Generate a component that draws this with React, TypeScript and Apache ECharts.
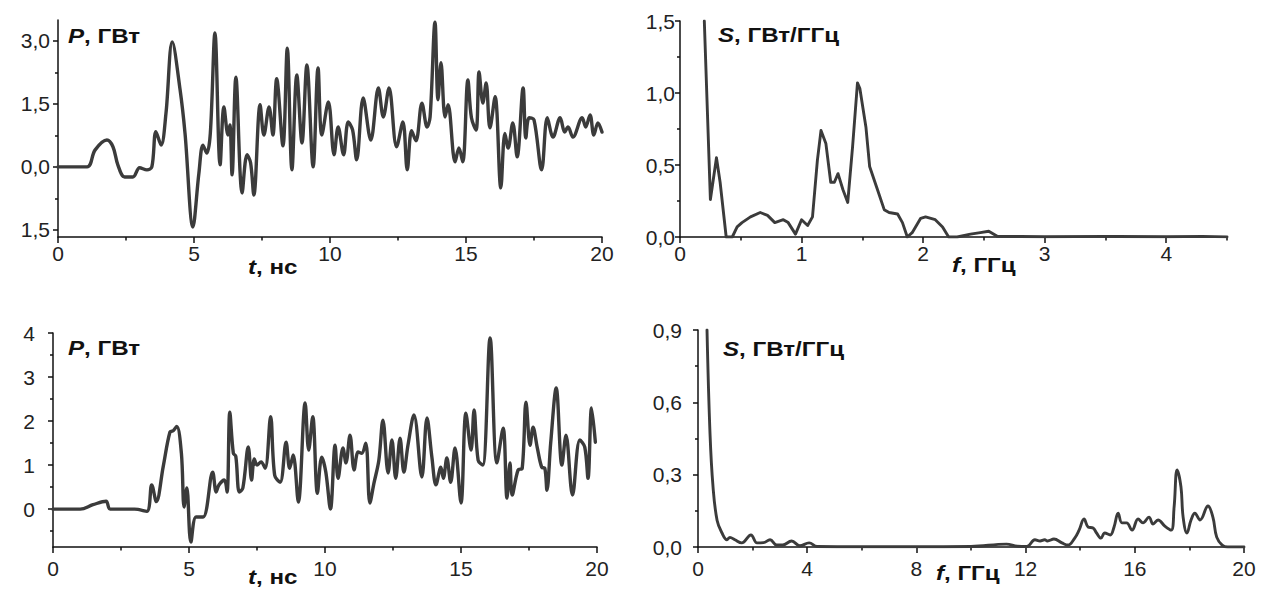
import React, { useEffect, useRef } from "react";
import * as echarts from "echarts";

// ---- Data ----
// Top-left: P(t), GW
const p1T = [0, 1.07, 1.36, 1.8, 2.02, 2.2, 2.45, 2.75, 3.0, 3.27, 3.45, 3.6, 3.79, 3.97, 4.2, 4.49, 4.67, 4.96, 5.18, 5.33, 5.47, 5.6, 5.77, 5.96, 6.1, 6.25, 6.32, 6.4, 6.54, 6.77, 6.95, 7.08, 7.2, 7.43, 7.57, 7.76, 7.9, 8.04, 8.27, 8.43, 8.6, 8.78, 8.97, 9.15, 9.38, 9.56, 9.7, 9.94, 10.15, 10.3, 10.5, 10.67, 10.83, 10.98, 11.22, 11.5, 11.78, 11.96, 12.17, 12.45, 12.68, 12.84, 13.0, 13.16, 13.38, 13.57, 13.68, 13.86, 13.97, 14.08, 14.23, 14.34, 14.6, 14.74, 14.88, 15.07, 15.2, 15.37, 15.48, 15.62, 15.74, 15.88, 16.07, 16.28, 16.43, 16.55, 16.72, 16.88, 17.1, 17.2, 17.32, 17.5, 17.78, 17.99, 18.2, 18.46, 18.63, 18.75, 18.93, 19.27, 19.4, 19.56, 19.7, 19.85, 20];
const p1P = [0, 0, 0.4, 0.64, 0.48, 0.05, -0.24, -0.24, -0.02, -0.07, 0, 0.84, 0.52, 1.28, 2.98, 1.83, 0.8, -1.43, -0.15, 0.52, 0.33, 0.8, 3.19, 0.05, 1.43, 0.76, 1.0, -0.19, 2.14, -0.62, 0.29, 0.1, -0.67, 1.48, 0.76, 1.43, 0.76, 2.1, 0.5, 2.83, -0.07, 2.19, 0.57, 2.43, 0, 2.36, 0.76, 1.55, 0.29, 0.95, 0.29, 1.07, 0.88, 0.17, 1.64, 0.64, 1.88, 1.19, 1.88, 0.48, 1.07, -0.07, 0.86, 0.62, 1.52, 0.95, 1.19, 3.45, 1.6, 2.48, 1.19, 1.48, 0.12, 0.45, 0.12, 2.07, 1.17, 0.88, 2.26, 1.52, 2.0, 0.93, 1.67, -0.5, 0.8, 0.45, 1.05, 0.24, 1.88, 0.69, 1.17, 1.12, -0.07, 1.17, 0.71, 1.17, 0.83, 0.95, 0.71, 1.17, 0.95, 1.24, 0.76, 1.05, 0.83];

// Top-right: S(f), GW/GHz
const s1F = [0.2, 0.25, 0.3, 0.33, 0.38, 0.43, 0.47, 0.51, 0.58, 0.66, 0.72, 0.78, 0.85, 0.89, 0.95, 1.0, 1.05, 1.09, 1.13, 1.16, 1.2, 1.24, 1.27, 1.3, 1.34, 1.38, 1.42, 1.46, 1.48, 1.53, 1.56, 1.62, 1.68, 1.72, 1.79, 1.83, 1.87, 1.91, 1.98, 2.02, 2.1, 2.16, 2.21, 2.28, 2.39, 2.47, 2.54, 2.61, 2.8, 3.0, 3.5, 3.6, 4.0, 4.3, 4.5];
const s1S = [1.5, 0.26, 0.55, 0.38, 0, 0, 0.07, 0.1, 0.14, 0.17, 0.15, 0.1, 0.12, 0.1, 0.02, 0.12, 0.08, 0.14, 0.53, 0.74, 0.65, 0.38, 0.38, 0.44, 0.33, 0.24, 0.63, 1.07, 1.03, 0.76, 0.49, 0.34, 0.19, 0.17, 0.16, 0.1, 0, 0.03, 0.13, 0.14, 0.12, 0.07, 0, 0, 0.02, 0.03, 0.04, 0.005, 0.003, 0.002, 0.004, 0.003, 0.002, 0.004, 0.001];

// Bottom-left: P(t), GW
const p2T = [0, 1.0, 1.47, 1.95, 2.1, 3.0, 3.45, 3.63, 3.8, 4.05, 4.3, 4.42, 4.55, 4.72, 4.82, 4.92, 5.07, 5.26, 5.52, 5.87, 6.0, 6.1, 6.3, 6.4, 6.5, 6.63, 6.72, 6.85, 6.98, 7.18, 7.3, 7.4, 7.5, 7.65, 7.8, 8.0, 8.15, 8.35, 8.57, 8.7, 8.83, 9.02, 9.27, 9.4, 9.55, 9.72, 9.88, 10.03, 10.2, 10.37, 10.48, 10.66, 10.77, 10.92, 11.07, 11.22, 11.35, 11.5, 11.65, 11.8, 11.98, 12.13, 12.32, 12.46, 12.6, 12.76, 12.9, 13.05, 13.27, 13.56, 13.75, 13.93, 14.08, 14.26, 14.35, 14.48, 14.62, 14.78, 15.0, 15.18, 15.37, 15.48, 15.63, 15.8, 16.07, 16.32, 16.55, 16.69, 16.8, 16.88, 17.1, 17.25, 17.39, 17.54, 17.65, 17.8, 17.97, 18.08, 18.16, 18.3, 18.5, 18.71, 18.86, 19.1, 19.37, 19.55, 19.67, 19.8, 19.94];
const p2P = [0, 0, 0.1, 0.18, 0, 0, -0.05, 0.55, 0.17, 0.96, 1.75, 1.78, 1.88, 1.27, 0.05, 0.48, -0.75, -0.18, -0.18, 0.84, 0.39, 0.55, 0.66, 0.39, 2.2, 1.27, 1.2, 0.39, 0.48, 1.41, 0.66, 1.14, 1.0, 1.07, 0.93, 2.1, 0.77, 0.61, 1.52, 0.93, 1.23, 0.16, 2.41, 1.34, 2.1, 0.36, 1.18, 0.84, 0, 1.45, 0.7, 1.39, 1.05, 1.68, 0.89, 1.3, 1.27, 1.5, 0.14, 0.59, 1.11, 2.02, 0.82, 1.57, 0.7, 1.61, 0.84, 1.45, 2.14, 0.73, 2.07, 1.18, 0.55, 0.95, 0.7, 1.16, 0.61, 1.39, 0.14, 2.18, 1.34, 2.25, 1.11, 1.0, 3.89, 1.05, 1.84, 0.25, 1.05, 0.32, 0.89, 0.93, 2.43, 1.45, 1.86, 1.41, 0.95, 0.93, 0.43, 1.52, 2.75, 1.0, 1.68, 0.32, 1.57, 1.41, 0.7, 2.3, 1.52];

// Bottom-right: S(f), GW/GHz
const s2F = [0.33, 0.44, 0.55, 0.7, 0.88, 1.06, 1.17, 1.35, 1.6, 1.94, 2.16, 2.4, 2.64, 2.88, 3.1, 3.43, 3.73, 4.07, 4.36, 6, 8, 10, 11.3, 11.7, 12.05, 12.34, 12.53, 12.7, 12.8, 13.04, 13.33, 13.55, 13.8, 13.96, 14.14, 14.29, 14.47, 14.6, 14.76, 14.9, 15.1, 15.24, 15.39, 15.53, 15.7, 15.9, 16.12, 16.3, 16.52, 16.67, 16.85, 17.1, 17.33, 17.44, 17.55, 17.69, 17.77, 17.91, 18.06, 18.2, 18.39, 18.68, 18.86, 19.0, 19.2, 19.4, 20];
const s2S = [0.9, 0.47, 0.25, 0.11, 0.058, 0.03, 0.04, 0.03, 0.017, 0.05, 0.017, 0.018, 0.03, 0.008, 0.008, 0.025, 0.005, 0.017, 0.002, 0.001, 0.001, 0.002, 0.012, 0.003, 0.002, 0.03, 0.025, 0.03, 0.025, 0.033, 0.017, 0.008, 0.037, 0.07, 0.116, 0.083, 0.079, 0.058, 0.037, 0.058, 0.05, 0.083, 0.14, 0.1, 0.1, 0.07, 0.116, 0.1, 0.124, 0.095, 0.112, 0.087, 0.07, 0.166, 0.32, 0.25, 0.124, 0.058, 0.112, 0.14, 0.112, 0.17, 0.124, 0.041, 0.008, 0, 0];

// Tick values
const p1XMajor = [0, 5, 10, 15, 20];
const p1XMinor = [2.5, 7.5, 12.5, 17.5];
const p1YMajor = [-1.5, 0, 1.5, 3];
const p1YMinor = [-0.75, 0.75, 2.25];
const s1XMajor = [0, 1, 2, 3, 4];
const s1XMinor = [0.5, 1.5, 2.5, 3.5, 4.5];
const s1YMajor = [0, 0.5, 1, 1.5];
const s1YMinor = [0.25, 0.75, 1.25];
const p2XMajor = [0, 5, 10, 15, 20];
const p2XMinor = [2.5, 7.5, 12.5, 17.5];
const p2YMajor = [0, 1, 2, 3, 4];
const p2YMinor = [-0.5, 0.5, 1.5, 2.5, 3.5];
const s2XMajor = [0, 4, 8, 12, 16, 20];
const s2XMinor = [2, 6, 10, 14, 18];
const s2YMajor = [0, 0.3, 0.6, 0.9];
const s2YMinor = [0.15, 0.45, 0.75];

const FONT = '"Liberation Sans", Arial, sans-serif';
const AXIS_COLOR = "#111";
const LINE_COLOR = "#3b3b3b";
const TICK_FONT = 21;

const comma1 = (v: number) => Math.abs(v).toFixed(1).replace(".", ",");
const intFmt = (v: number) => String(Math.round(v));

function zip(a: number[], b: number[]) {
  return a.map((x, i) => [x, b[i]]);
}

function axesFor(
  gi: number,
  xr: [number, number],
  xMaj: number[],
  xMin: number[],
  yr: [number, number],
  yMaj: number[],
  yMin: number[],
  xFmt: (v: number) => string,
  yFmt: (v: number) => string,
  xMargin: number,
  yMargin: number
) {
  const ls = { color: AXIS_COLOR, width: 1.5 };
  const xs = [
    {
      gridIndex: gi, type: "value", min: xr[0], max: xr[1], position: "bottom",
      axisLine: { show: true, onZero: false, lineStyle: ls },
      axisTick: { show: true, customValues: xMaj, length: 6, lineStyle: ls },
      axisLabel: { show: true, customValues: xMaj, formatter: xFmt, fontSize: TICK_FONT, color: "#222", fontFamily: FONT, margin: xMargin },
      splitLine: { show: false },
    },
    {
      gridIndex: gi, type: "value", min: xr[0], max: xr[1], position: "bottom",
      axisLine: { show: false, onZero: false },
      axisTick: { show: true, customValues: xMin, length: 3.5, lineStyle: ls },
      axisLabel: { show: false },
      splitLine: { show: false },
    },
  ];
  const ys = [
    {
      gridIndex: gi, type: "value", min: yr[0], max: yr[1], position: "left",
      axisLine: { show: true, onZero: false, lineStyle: ls },
      axisTick: { show: true, customValues: yMaj, length: 5, lineStyle: ls },
      axisLabel: { show: true, customValues: yMaj, formatter: yFmt, fontSize: TICK_FONT, color: "#222", fontFamily: FONT, margin: yMargin },
      splitLine: { show: false },
    },
    {
      gridIndex: gi, type: "value", min: yr[0], max: yr[1], position: "left",
      axisLine: { show: false, onZero: false },
      axisTick: { show: true, customValues: yMin, length: 3, lineStyle: ls },
      axisLabel: { show: false },
      splitLine: { show: false },
    },
  ];
  return { xs, ys };
}

function label(x: number, y: number, ital: string, rest: string) {
  return {
    type: "text",
    x,
    y,
    scaleX: 1.15,
    style: {
      text: `{i|${ital}}{r|${rest}}`,
      rich: {
        i: { fontStyle: "italic", fontWeight: "bold", fontSize: 21, lineHeight: 19, fontFamily: FONT, fill: "#111" },
        r: { fontWeight: "bold", fontSize: 21, lineHeight: 19, fontFamily: FONT, fill: "#111" },
      },
      fontWeight: "bold",
      fontSize: 21,
      lineHeight: 19,
      fontFamily: FONT,
      fill: "#111",
      verticalAlign: "middle",
    },
  };
}

export default function App() {
  const ref = useRef<HTMLDivElement>(null);
  useEffect(() => {
    if (!ref.current) return;
    const chart = echarts.init(ref.current, undefined, { renderer: "svg" });
    const a0 = axesFor(0, [0, 20], p1XMajor, p1XMinor, [-1.67, 3.5], p1YMajor, p1YMinor, intFmt, comma1, 6, 8);
    const a1 = axesFor(1, [0, 4.5], s1XMajor, s1XMinor, [0, 1.5], s1YMajor, s1YMinor, intFmt, comma1, 6, 5);
    const a2 = axesFor(2, [0, 20], p2XMajor, p2XMinor, [-0.86, 4], p2YMajor, p2YMinor, intFmt, intFmt, 11, 18);
    const a3 = axesFor(3, [0, 20], s2XMajor, s2XMinor, [0, 0.9], s2YMajor, s2YMinor, intFmt, comma1, 11, 16);
    const xAxis = [...a0.xs, ...a1.xs, ...a2.xs, ...a3.xs];
    const yAxis = [...a0.ys, ...a1.ys, ...a2.ys, ...a3.ys];
    const lineSeries = (idx: number, data: number[][], smooth: number | boolean, width: number) => ({
      type: "line",
      xAxisIndex: idx * 2,
      yAxisIndex: idx * 2,
      data,
      showSymbol: false,
      smooth,
      clip: true,
      lineStyle: { color: LINE_COLOR, width, cap: "round", join: "round" },
    });
    chart.setOption({
      animation: false,
      backgroundColor: "#fff",
      grid: [
        { left: 58, top: 20, width: 544, height: 217 },
        { left: 680, top: 21, width: 547, height: 216 },
        { left: 53, top: 333, width: 544, height: 214 },
        { left: 698, top: 330, width: 546, height: 217 },
      ],
      xAxis,
      yAxis,
      series: [
        lineSeries(0, zip(p1T, p1P), 0.35, 3.4),
        lineSeries(1, zip(s1F, s1S), false, 2.9),
        lineSeries(2, zip(p2T, p2P), 0.35, 3.4),
        lineSeries(3, zip(s2F, s2S), 0.4, 2.9),
      ],
      graphic: [
        label(68, 36, "P", ", ГВт"),
        label(248, 267, "t", ", нс"),
        label(718, 35, "S", ", ГВт/ГГц"),
        label(952, 265, "f", ", ГГц"),
        label(68, 348, "P", ", ГВт"),
        label(248, 577, "t", ", нс"),
        label(723, 349, "S", ", ГВт/ГГц"),
        label(936, 573, "f", ", ГГц"),
      ],
    });
    return () => chart.dispose();
  }, []);
  return (
    <div
      ref={ref}
      style={{ position: "absolute", left: 0, top: 0, width: 1266, height: 589, background: "#fff" }}
    />
  );
}
